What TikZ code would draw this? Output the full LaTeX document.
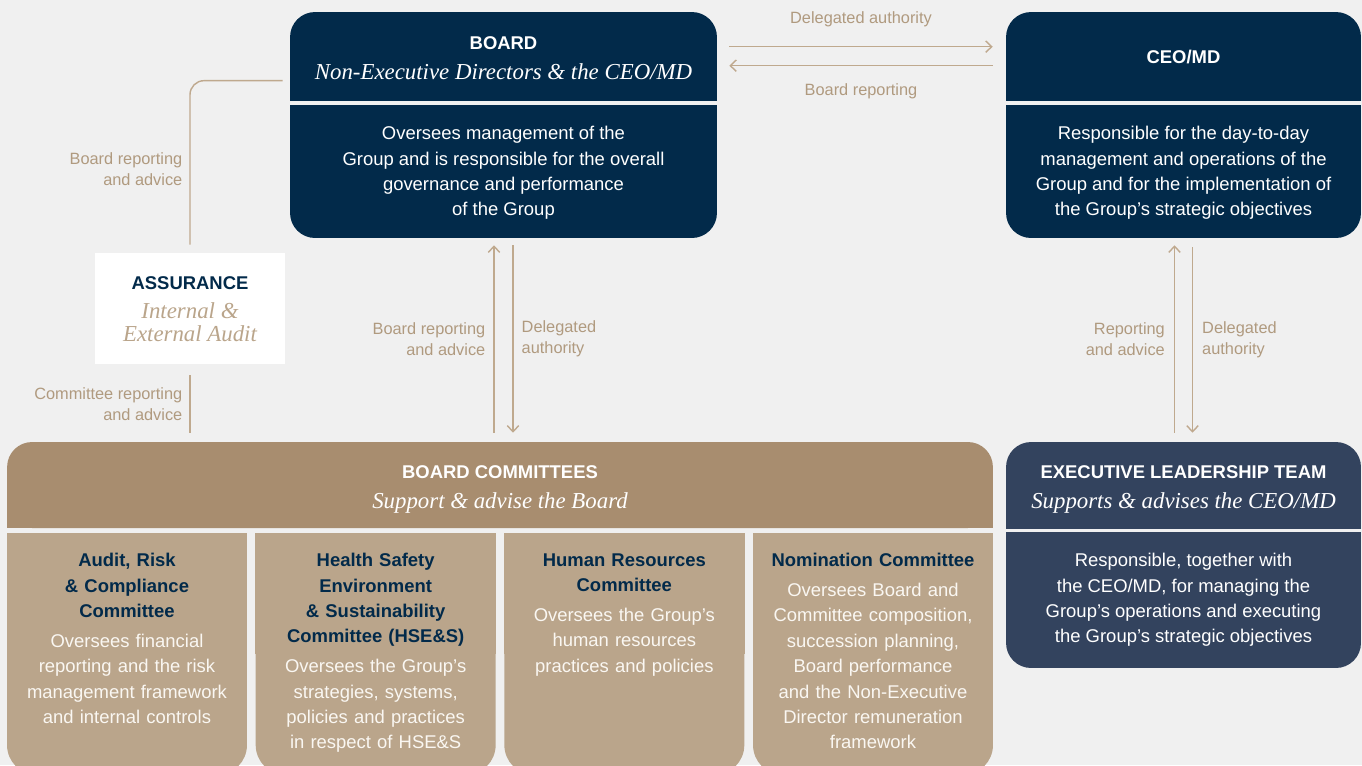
\documentclass[tikz,border=0pt]{standalone}
\usepackage{fontspec}
\setmainfont{Liberation Sans}
\newfontfamily\serifit{Liberation Serif}
\usetikzlibrary{arrows.meta,positioning,calc}

\definecolor{navy}{HTML}{022A4A}
\definecolor{slate}{HTML}{33435E}
\definecolor{bgray}{HTML}{F0F0F0}
\definecolor{tanline}{HTML}{BFA98E}
\definecolor{tantext}{HTML}{B09A7F}
\definecolor{tanhead}{HTML}{A88D6F}
\definecolor{tancol}{HTML}{BAA58B}
\definecolor{offwhite}{HTML}{FAF7F2}

\tikzset{
  panel/.style={rectangle, rounded corners=0.5cm, inner sep=0pt, minimum height=4.52cm},
  hdtxt/.style={font=\fontsize{10.5}{14}\selectfont\bfseries, text=white, inner sep=0pt},
  subtxt/.style={font=\fontsize{13}{13}\selectfont\serifit\itshape, text=white, inner sep=0pt},
  bodytxt/.style={font=\fontsize{10.5}{14.45}\selectfont, text=white, align=center, inner sep=0pt},
  coltxt/.style={bodytxt, text=offwhite, text width=4.6cm, anchor=north},
  lbl/.style={font=\fontsize{9.3}{11.9}\selectfont, text=tantext, inner sep=0pt},
  link/.style={draw=tanline, line width=0.8pt},
  flow/.style={link, -{Straight Barb[length=3.4pt,width=6.5pt]}},
  divider/.style={draw=bgray, line width=2pt}
}

\begin{document}
\begin{tikzpicture}[x=0.02cm, y=-0.02cm]
  \useasboundingbox (0,0) rectangle (1362,765);
  \fill[bgray] (0,0) rectangle (1362,765);

  % boxes
  \node[panel, fill=navy, minimum width=8.54cm] (board) at (503.5,125) {};
  \draw[divider] (board.west |- 0,103) -- (board.east |- 0,103);
  \node[panel, fill=navy, minimum width=7.1cm] (ceo) at (1183.5,125) {};
  \draw[divider] (ceo.west |- 0,103) -- (ceo.east |- 0,103);
  \node[panel, fill=slate, minimum width=7.1cm] (elt) at (1183.5,555) {};
  \draw[divider] (elt.west |- 0,530.5) -- (elt.east |- 0,530.5);
  \node[panel, fill=tanhead, minimum width=19.72cm, minimum height=1.72cm] (comm) at (500,485) {};
  \fill[tanhead] (comm.west) rectangle (comm.south east);
  \foreach \i/\cx in {1/127,2/375.67,3/624.33,4/873}{
    \node[panel, fill=tancol, rounded corners=0.6cm, minimum width=4.8cm, minimum height=4.84cm] (col\i) at (\cx,654) {};
    \fill[tancol] (col\i.north west) rectangle (col\i.east);
  }
  \node[fill=white, minimum width=3.8cm, minimum height=2.22cm, inner sep=0pt] (assur) at (190,308.5) {};

  % texts
  \node[hdtxt] (boardT) at (503.5,43) {BOARD};
  \node[subtxt] (boardS) at (503.5,72) {Non-Executive Directors \& the CEO/MD};
  \node[bodytxt] (boardB) at (503.5,173) {Oversees management of the\\Group and is responsible for the overall\\governance and performance\\of the Group};
  \node[hdtxt] (ceoT) at (1183.5,57) {CEO/MD};
  \node[bodytxt] (ceoB) at (1183.5,173) {Responsible for the day-to-day\\management and operations of the\\Group and for the implementation of\\the Group's strategic objectives};
  \node[hdtxt] (eltT) at (1183.5,472) {EXECUTIVE LEADERSHIP TEAM};
  \node[subtxt] (eltS) at (1183.5,502.5) {Supports \& advises the CEO/MD};
  \node[bodytxt] (eltB) at (1183.5,600) {Responsible, together with\\the CEO/MD, for managing the\\Group's operations and executing\\the Group's strategic objectives};
  \node[hdtxt] (commT) at (500,472) {BOARD COMMITTEES};
  \node[subtxt] (commS) at (500,502.5) {Support \& advise the Board};
  \node[hdtxt, text=navy] (assurT) at (190,283) {ASSURANCE};
  \node[subtxt, text=tancol, align=center, font=\fontsize{13}{13}\selectfont\serifit\itshape] (assurS) at (190,322.5) {Internal \&\\External Audit};

  \node[coltxt] (arcT) at (127,553) {{\color{navy}\bfseries Audit, Risk\\ \& Compliance\\ Committee\par}\vspace{2.5pt}Oversees financial\\ reporting and the risk\\ management framework\\ and internal controls};
  \node[coltxt] (hseT) at (375.67,553) {{\color{navy}\bfseries Health Safety\\ Environment\\ \& Sustainability\\ Committee (HSE\&S)\par}\vspace{2.5pt}Oversees the Group's\\ strategies, systems,\\ policies and practices\\ in respect of HSE\&S};
  \node[coltxt] (hrT) at (624.33,553) {{\color{navy}\bfseries Human Resources\\ Committee\par}\vspace{2.5pt}Oversees the Group's\\ human resources\\ practices and policies};
  \node[coltxt] (nomT) at (873,553) {{\color{navy}\bfseries Nomination Committee\par}\vspace{2.5pt}Oversees Board and\\ Committee composition,\\ succession planning,\\ Board performance\\ and the Non-Executive\\ Director remuneration\\ framework};

  % connectors
  \draw[flow] ($(board.north east)+(12,35)$) -- ($(ceo.north west)+(-13,35)$)
    node[lbl, midway, above=0.38cm] (lblDa) {Delegated authority};
  \draw[flow] ($(ceo.north west)+(-13,54)$) -- ($(board.north east)+(12,54)$)
    node[lbl, midway, below=0.34cm] (lblBr) {Board reporting};
  \draw[flow] ($(board.south |- comm.north)+(-9.5,-9)$) -- ($(board.south)+(-9.5,7)$)
    node[lbl, midway, left=0.16cm, align=right] (lblBa) {Board reporting\\and advice};
  \draw[flow] ($(board.south)+(9.5,7)$) -- ($(board.south |- comm.north)+(9.5,-9)$)
    node[lbl, midway, right=0.16cm, align=left] (lblDb) {Delegated\\authority};
  \draw[flow] ($(elt.north)+(-9,-9)$) -- ($(ceo.south)+(-9,7)$)
    node[lbl, midway, left=0.18cm, align=right] (lblRa) {Reporting\\and advice};
  \draw[flow] ($(ceo.south)+(9,9)$) -- ($(elt.north)+(9,-9)$)
    node[lbl, midway, right=0.18cm, align=left] (lblDc) {Delegated\\authority};
  \draw[link, rounded corners=0.28cm] ($(assur.north)+(0,-8)$) |- ($(board.north west)+(-7,69)$)
    node[lbl, pos=0.23, left=0.14cm, align=right] (lblBa2) {Board reporting\\and advice};
  \draw[link] ($(assur.south)+(0,11)$) -- ($(assur.south |- comm.north)+(0,-9)$)
    node[lbl, midway, left=0.14cm, align=right] (lblCr) {Committee reporting\\and advice};
\end{tikzpicture}
\end{document}
